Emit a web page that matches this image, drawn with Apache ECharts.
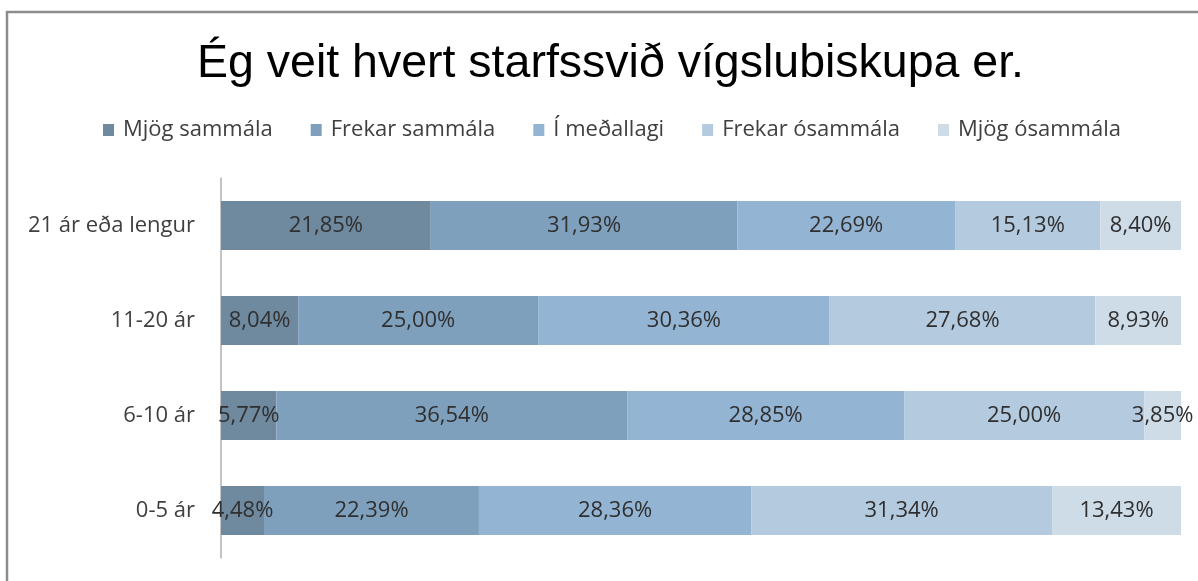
<!DOCTYPE html>
<html>
<head>
<meta charset="utf-8">
<script src="https://cdn.jsdelivr.net/npm/echarts@6/dist/echarts.min.js"></script>
<style>
  html, body { margin: 0; padding: 0; background: #fff; }
  #chart { width: 1198px; height: 581px; }
</style>
</head>
<body>
<div id="chart"></div>
<script>
// categories top to bottom
var categories = ['21 ár eða lengur', '11-20 ár', '6-10 ár', '0-5 ár'];
var seriesNames = ['Mjög sammála', 'Frekar sammála', 'Í meðallagi', 'Frekar ósammála', 'Mjög ósammála'];
// percentages per answer, one value per category (same order as categories)
var mjogSammala = [21.85, 8.04, 5.77, 4.48];
var frekarSammala = [31.93, 25.00, 36.54, 22.39];
var iMedallagi = [22.69, 30.36, 28.85, 28.36];
var frekarOsammala = [15.13, 27.68, 25.00, 31.34];
var mjogOsammala = [8.40, 8.93, 3.85, 13.43];

var colors = ['#6f899f', '#7fa0bc', '#93b4d2', '#b4cadf', '#cedce8'];
var values = [mjogSammala, frekarSammala, iMedallagi, frekarOsammala, mjogOsammala];
var font = "'Open Sans', 'Noto Sans', sans-serif";

var chart = echarts.init(document.getElementById('chart'));

var series = seriesNames.map(function (name, i) {
  return {
    name: name,
    type: 'bar',
    stack: 'total',
    barWidth: 49,
    clip: false,
    itemStyle: { color: colors[i] },
    label: {
      show: true,
      position: 'inside',
      color: '#2f2f2f',
      fontFamily: font,
      fontSize: 22,
      formatter: function (p) {
        return p.value.toFixed(2).replace('.', ',') + '%';
      }
    },
    data: values[i]
  };
});

chart.setOption({
  animation: false,
  title: {
    text: 'Ég veit hvert starfssvið vígslubiskupa er.',
    left: 192,
    top: 36,
    textStyle: {
      fontFamily: "'Liberation Sans', Arial, sans-serif",
      fontSize: 46.5,
      fontWeight: 'normal',
      color: '#000'
    }
  },
  legend: {
    top: 114,
    left: 98,
    itemWidth: 11,
    itemHeight: 12,
    itemGap: 38,
    icon: 'rect',
    textStyle: {
      fontFamily: font,
      fontSize: 22,
      color: '#404040',
      padding: [0, 0, 0, 4]
    },
    data: seriesNames
  },
  grid: {
    left: 221,
    right: 17,
    top: 178,
    bottom: 23
  },
  xAxis: {
    type: 'value',
    min: 0,
    max: 100,
    show: false
  },
  yAxis: {
    type: 'category',
    inverse: true,
    data: categories,
    axisLine: { show: true, lineStyle: { color: '#b0b0b0', width: 1.5 } },
    axisTick: { show: false },
    axisLabel: {
      margin: 26,
      fontFamily: font,
      fontSize: 22,
      color: '#404040'
    }
  },
  graphic: [
    { type: 'line', shape: { x1: 6, y1: 12, x2: 1198, y2: 12 }, style: { stroke: '#8c8c8c', lineWidth: 2.5 } },
    { type: 'line', shape: { x1: 7, y1: 11, x2: 7, y2: 581 }, style: { stroke: '#8c8c8c', lineWidth: 2.5 } }
  ],
  series: series
});
</script>
</body>
</html>
